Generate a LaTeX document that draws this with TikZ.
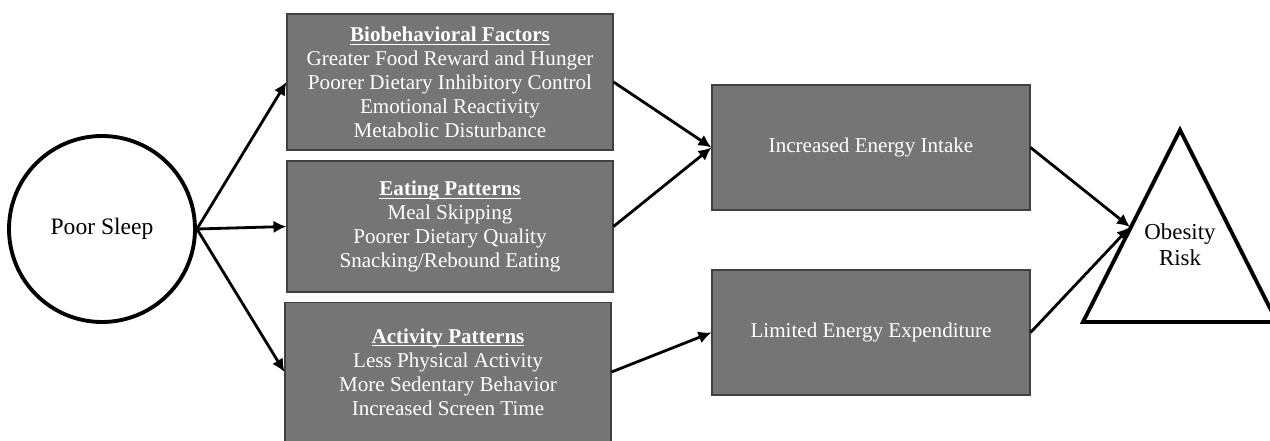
\documentclass[tikz,border=0pt]{standalone}
\usepackage{fontspec}
\setmainfont{Liberation Serif}
\usetikzlibrary{arrows.meta,positioning}

\newcommand{\hdr}[1]{\underline{\smash{\textbf{#1}}}\vphantom{\textbf{#1}}}

\begin{document}
\begin{tikzpicture}[line join=miter]
  \tikzstyle{factor}=[draw=black!75, line width=0.6pt, fill=black!54, text=white,
    minimum width=6.52cm, align=center, font=\fontsize{12}{13.6}\selectfont]
  \tikzstyle{energy}=[factor, minimum width=6.36cm, minimum height=2.5cm]
  \tikzstyle{link}=[-{Latex[length=2.6mm,width=2.5mm]}, line width=1.6pt]

  \useasboundingbox (0,0) rectangle (25.4,8.8);

  \node[circle, draw, line width=2.2pt, minimum size=3.72cm,
        font=\fontsize{13.4}{15}\selectfont] (sleep) at (2.04,4.22) {Poor Sleep};

  \node[factor, minimum height=2.72cm] (bio) at (9.0,7.16)
    {\hdr{Biobehavioral Factors}\\
     Greater Food Reward and Hunger\\
     Poorer Dietary Inhibitory Control\\
     Emotional Reactivity\\
     Metabolic Disturbance};
  \node[factor, minimum height=2.62cm] (eat) at (9.0,4.27)
    {\hdr{Eating Patterns}\\
     Meal Skipping\\
     Poorer Dietary Quality\\
     Snacking/Rebound Eating};
  \node[factor, minimum height=2.78cm] (act) at (8.96,1.36)
    {\hdr{Activity Patterns}\\
     Less Physical Activity\\
     More Sedentary Behavior\\
     Increased Screen Time};

  \node[energy] (intake) at (17.42,5.85) {Increased Energy Intake};
  \node[energy] (expend) at (17.42,2.15) {Limited Energy Expenditure};

  % obesity risk triangle
  \coordinate (top) at (23.6,6.2);
  \coordinate (bl)  at (21.66,2.36);
  \coordinate (br)  at (25.54,2.36);
  \draw[line width=2.2pt] (top) -- (bl) -- (br) -- cycle;
  \node[align=center, font=\fontsize{13}{14.7}\selectfont] (risk) at (23.6,3.9)
    {Obesity\\Risk};
  \coordinate (riskin) at (22.6,4.26);

  \draw[link] (sleep.east) -- (bio.west);
  \draw[link] (sleep.east) -- (eat.west);
  \draw[link] (sleep.east) -- (act.west);
  \draw[link] (bio.east) -- (intake.west);
  \draw[link] (eat.east) -- (intake.west);
  \draw[link] (act.east) -- (expend.west);
  \draw[link] (intake.east) -- (riskin);
  \draw[link] (expend.east) -- (riskin);
\end{tikzpicture}
\end{document}
